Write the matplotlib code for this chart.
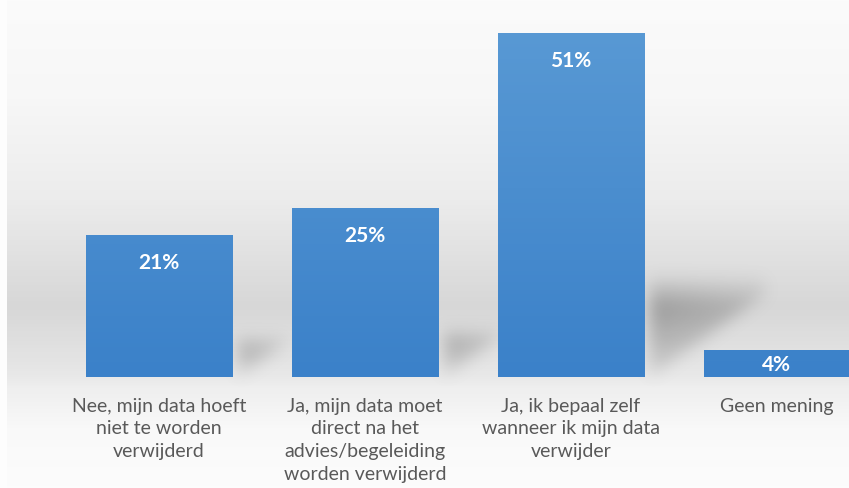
import numpy as np
import matplotlib
matplotlib.use("Agg")
import matplotlib.pyplot as plt
from matplotlib.colors import LinearSegmentedColormap

categories = [
    "Nee, mijn data hoeft\nniet te worden\nverwijderd",
    "Ja, mijn data moet\ndirect na het\nadvies/begeleiding\nworden verwijderd",
    "Ja, ik bepaal zelf\nwanneer ik mijn data\nverwijder",
    "Geen mening",
]
values = [21, 25, 51, 4]
value_labels = ["21%", "25%", "51%", "4%"]

plt.rcParams['font.family'] = ['Lato', 'DejaVu Sans']

W, H = 849, 489
fig = plt.figure(figsize=(W / 100, H / 100), dpi=100)
ax = fig.add_axes([0, 0, 1, 1])
ymin, ymax = -16.44, 56
xmin, xmax = -0.772, 3.35
ax.set_xlim(xmin, xmax)
ax.set_ylim(ymin, ymax)
ax.axis("off")

# background gradient (top -> bottom)
bg = LinearSegmentedColormap.from_list("bg", [
    (0.0, "#fbfbfb"), (0.2, "#f7f7f7"), (0.41, "#ececec"),
    (0.63, "#d7d7d7"), (0.76, "#e6e6e6"), (0.80, "#efefef"),
    (0.88, "#f9f9f9"), (1.0, "#fcfcfc")])
grad = np.linspace(0, 1, H).reshape(-1, 1)
ax.imshow(grad, cmap=bg, aspect="auto", extent=(xmin, xmax, ymin, ymax),
          origin="upper", zorder=0)
ax.axvspan(xmin, xmin + 0.035, color="#fdfdfd", zorder=0.5, lw=0)

width = 0.709
x = np.arange(len(values))

# soft shadows: blurred slanted shape right of each bar
gx = np.linspace(xmin, xmax, W)
gy = np.linspace(ymax, ymin, H)
XX, YY = np.meshgrid(gx, gy)
alpha = np.zeros((H, W))
for xi, h in zip(x, values):
    x1 = xi + width / 2 + 0.03
    top = h * 0.24
    shift = h * 0.011
    peak = 0.35 + 0.2 * h / max(values)
    t = YY / max(top, 1e-6)
    inside = (XX >= x1) & (YY >= 0) & (t <= 1.25) & \
             ((XX - x1) <= shift * np.minimum(t, 1.0))
    a = np.where(t <= 0.85, peak * (0.3 + 0.7 * t / 0.85),
                 peak * np.clip((1.25 - t) / 0.4, 0, 1))
    a = a * (1 - 0.45 * np.clip((XX - x1) / shift, 0, 1))
    alpha = np.maximum(alpha, np.where(inside, a, 0))


def box_blur(img, r):
    for axis in (0, 1):
        pad = [(0, 0), (0, 0)]
        pad[axis] = (r + 1, r)
        c = np.cumsum(np.pad(img, pad, mode="edge"), axis=axis)
        if axis == 0:
            img = (c[2 * r + 1:] - c[:-2 * r - 1]) / (2 * r + 1)
        else:
            img = (c[:, 2 * r + 1:] - c[:, :-2 * r - 1]) / (2 * r + 1)
    return img


for _ in range(3):
    alpha = box_blur(alpha, 7)
rgba = np.zeros((H, W, 4))
rgba[..., :3] = 0.42
rgba[..., 3] = alpha
ax.imshow(rgba, aspect="auto", extent=(xmin, xmax, ymin, ymax),
          origin="upper", zorder=1)

bars = ax.bar(x, values, width=width, color="#4a8fd3", zorder=2, lw=0)

bar_cmap = LinearSegmentedColormap.from_list("bar", ["#3b81c9", "#5b9bd5"])
for b in bars:
    im = ax.imshow(np.linspace(0, 1, 100).reshape(-1, 1)[::-1], cmap=bar_cmap,
                   aspect="auto", origin="upper",
                   extent=(b.get_x(), b.get_x() + b.get_width(), 0, ymax),
                   zorder=3)
    im.set_clip_path(b)

for xi, h, lab in zip(x, values, value_labels):
    ax.text(xi, max(h - 4, h / 2), lab, ha="center", va="center",
            color="white", fontsize=15, fontweight="bold", zorder=4)

for xi, cat in zip(x, categories):
    ax.text(xi, -2.9, cat, ha="center", va="top", color="#595959",
            fontsize=14, linespacing=1.42, zorder=4)

fig.savefig("out.png", dpi=100)
